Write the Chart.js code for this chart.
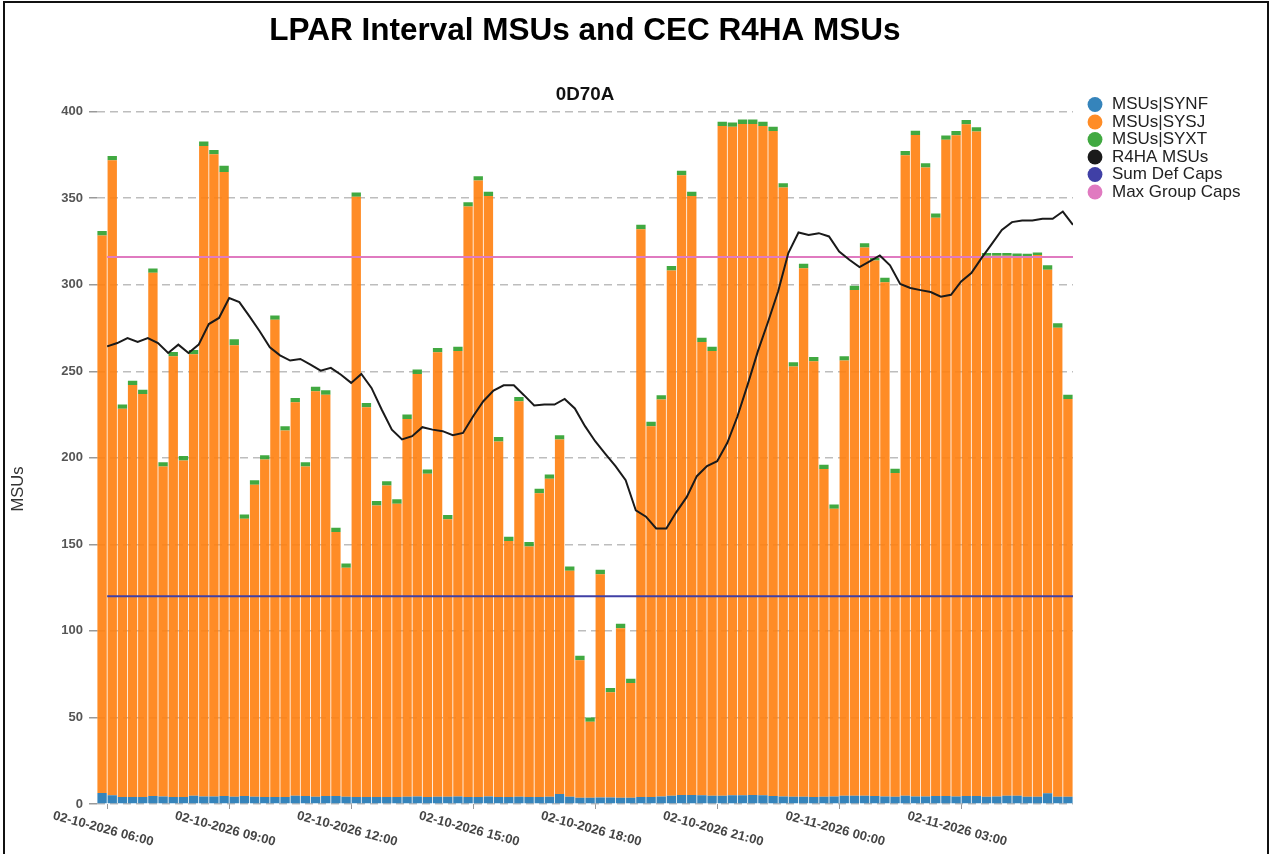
<!DOCTYPE html>
<html>
<head>
<meta charset="utf-8">
<title>LPAR Interval MSUs and CEC R4HA MSUs</title>
<script src="https://cdn.jsdelivr.net/npm/chart.js@4.4.1/dist/chart.umd.min.js"></script>
<style>
    html, body { margin: 0; padding: 0; background: #fff; overflow: hidden; }
    #frame { position: absolute; left: 3px; top: 1px; width: 1262px; height: 900px; border: 2px solid #111; }
    #chart { position: absolute; left: 0; top: 0; }
</style>
</head>
<body>
<div id="frame"></div>
<canvas id="chart" width="1272" height="854"></canvas>
<script>
// ============================================================
// Datos
// ============================================================
const chartTitle    = 'LPAR Interval MSUs and CEC R4HA MSUs';
const chartSubtitle = '0D70A';
const yAxisTitle    = 'MSUs';

const tickLabels = [
    '02-10-2026 06:00', '02-10-2026 09:00', '02-10-2026 12:00', '02-10-2026 15:00',
    '02-10-2026 18:00', '02-10-2026 21:00', '02-11-2026 00:00', '02-11-2026 03:00'
];
const intervalsPerTick = 12; // 12 intervalos de 15 min = 3 horas

const msuSYNF = [
    6.3, 5.0, 4.0, 4.0, 4.0, 4.6, 4.3, 4.0, 4.0, 4.8, 4.4, 4.4, 4.6, 4.2, 4.6, 4.2,
    4.0, 4.0, 4.0, 4.8, 4.6, 4.2, 4.6, 4.6, 4.2, 4.0, 4.0, 4.0, 4.0, 4.0, 4.2, 4.4,
    4.0, 4.2, 4.2, 4.4, 4.0, 4.0, 4.4, 4.0, 4.0, 4.2, 4.0, 4.0, 4.2, 5.8, 4.2, 3.6,
    3.6, 3.8, 3.8, 3.6, 3.6, 4.0, 4.0, 4.4, 4.8, 5.2, 5.2, 5.0, 4.8, 4.8, 5.0, 5.0,
    5.2, 5.0, 4.6, 4.4, 4.2, 4.2, 4.0, 4.2, 4.4, 4.8, 4.8, 4.8, 4.6, 4.4, 4.2, 4.8,
    4.4, 4.4, 4.6, 4.6, 4.4, 4.6, 4.6, 4.2, 4.4, 4.8, 4.8, 4.2, 4.2, 6.2, 4.2, 4.2
];

const msuSYSJ = [
    322.2, 366.9, 224.3, 238.1, 232.9, 302.3, 190.7, 254.7, 194.5, 255.0, 375.8, 371.0,
    360.6, 260.8, 160.2, 180.3, 195.0, 275.8, 211.8, 227.3, 190.4, 234.3, 231.9, 152.5,
    132.3, 346.8, 225.2, 168.5, 180.0, 169.5, 218.3, 244.1, 186.8, 256.8, 160.3, 257.3,
    341.2, 356.2, 346.9, 205.5, 147.9, 228.5, 144.8, 175.6, 183.7, 204.8, 130.5, 79.5,
    43.9, 129.0, 60.7, 98.0, 66.3, 328.1, 214.3, 229.3, 303.5, 358.1, 346.1, 261.9,
    256.9, 386.9, 386.3, 387.9, 387.7, 386.7, 384.2, 351.8, 248.5, 305.4, 251.8, 189.3,
    166.2, 251.4, 292.1, 316.7, 309.4, 297.1, 187.0, 370.0, 382.1, 363.3, 334.1, 379.1,
    381.9, 388.1, 383.9, 312.6, 312.4, 312.0, 311.8, 312.2, 313.0, 302.5, 271.0, 229.8
];

const msuSYXT = [
    2.5, 2.5, 2.5, 2.5, 2.5, 2.5, 2.5, 2.5, 2.5, 2.5, 2.5, 2.5, 3.5, 3.5, 2.5, 2.5,
    2.5, 2.5, 2.5, 2.5, 2.5, 2.5, 2.5, 2.5, 2.5, 2.5, 2.5, 2.5, 2.5, 2.5, 2.5, 2.5,
    2.5, 2.5, 2.5, 2.5, 2.5, 2.5, 2.5, 2.5, 2.5, 2.5, 2.5, 2.5, 2.5, 2.5, 2.5, 2.5,
    2.5, 2.5, 2.5, 2.5, 2.5, 2.5, 2.5, 2.5, 2.5, 2.5, 2.5, 2.5, 2.5, 2.5, 2.5, 2.5,
    2.5, 2.5, 2.5, 2.5, 2.5, 2.5, 2.5, 2.5, 2.5, 2.5, 2.5, 2.5, 2.0, 2.5, 2.5, 2.5,
    2.5, 2.5, 2.5, 2.5, 2.5, 2.5, 2.5, 1.5, 1.5, 1.5, 1.5, 1.5, 1.5, 2.5, 2.5, 2.5
];

const r4haMSU = [
    264.4, 266.3, 269.2, 266.9, 269.2, 266.3, 260.6, 265.4, 260.6, 265.4,
    277.3, 280.8, 292.3, 290.0, 281.7, 273.1, 263.8, 259.2, 256.2, 257.1,
    253.8, 250.4, 252.0, 248.0, 243.3, 248.5, 240.4, 227.9, 216.3, 210.6,
    212.5, 217.7, 216.3, 215.4, 213.1, 214.4, 224.0, 232.7, 238.8, 241.9,
    241.9, 236.2, 230.2, 230.8, 230.8, 234.0, 228.5, 218.3, 209.6, 202.3,
    195.2, 187.1, 169.6, 166.0, 159.2, 159.2, 168.8, 177.3, 189.4, 195.2,
    198.1, 208.7, 224.0, 242.3, 261.5, 278.5, 296.2, 318.3, 330.2, 328.8,
    329.8, 327.9, 319.2, 314.4, 310.2, 313.5, 316.9, 311.2, 300.4, 298.1,
    296.9, 295.8, 293.1, 294.2, 301.9, 306.7, 315.4, 323.5, 331.7, 336.2,
    337.1, 337.1, 338.1, 338.1, 342.3, 334.6
];

const sumDefCaps   = 120;
const maxGroupCaps = 316;

// ============================================================
// Helpers
// ============================================================
const FONT = '"Liberation Sans", Arial, Helvetica, sans-serif';
const nIntervals = msuSYSJ.length;

// barras ocupan el intervalo de 15 min; las líneas marcan el fin del intervalo
const _barPoints  = (vals) => vals.map((v, i) => ({ x: i + 0.5, y: v }));
const _linePoints = (vals) => vals.map((v, i) => ({ x: i + 1, y: v }));
const _capPoints  = (v) => [{ x: 1, y: v }, { x: nIntervals, y: v }];

const _barSet = (label, color, vals) => ({
    label,
    data: _barPoints(vals),
    backgroundColor: color,
    borderWidth: 0,
    stack: 'msu',
    order: 1,
    barPercentage: 0.92,
    categoryPercentage: 1,
    xAxisID: 'x',
    yAxisID: 'y'
});

const _lineSet = (label, color, data, stack) => ({
    type: 'line',
    label,
    data,
    borderColor: color,
    backgroundColor: color,
    borderWidth: 2,
    pointRadius: 0,
    tension: 0,
    stack,
    order: 0,
    xAxisID: 'x',
    yAxisID: 'y'
});

// Textos de ejes que Chart.js no coloca como en la referencia
const axisText = {
    id: 'axisText',
    afterDraw(chart) {
        const { ctx, chartArea, scales } = chart;
        ctx.save();
        ctx.fillStyle = '#444';
        ctx.font = `bold 13px ${FONT}`;
        ctx.textAlign = 'center';
        ctx.textBaseline = 'middle';
        scales.x.ticks.forEach(t => {
            const label = tickLabels[Math.round((t.value - 1) / intervalsPerTick)];
            const px = scales.x.getPixelForValue(t.value);
            ctx.save();
            ctx.translate(px - 4, chartArea.bottom + 25);
            ctx.rotate(15 * Math.PI / 180);
            ctx.fillText(label, 0, 0);
            ctx.restore();
        });

        ctx.translate(18, 489);
        ctx.rotate(-Math.PI / 2);
        ctx.fillStyle = '#333';
        ctx.font = `16.5px ${FONT}`;
        ctx.fillText(yAxisTitle, 0, 0);
        ctx.restore();
    }
};

// ============================================================
// Chart
// ============================================================
Chart.defaults.font.family = FONT;

new Chart(document.getElementById('chart'), {
    type: 'bar',
    data: {
        datasets: [
            _barSet('MSUs|SYNF', 'rgba(31, 119, 180, 0.9)', msuSYNF),
            _barSet('MSUs|SYSJ', 'rgba(255, 127, 14, 0.9)', msuSYSJ),
            _barSet('MSUs|SYXT', 'rgba(44, 160, 44, 0.9)', msuSYXT),
            _lineSet('R4HA MSUs', '#1a1a1a', _linePoints(r4haMSU), 'r4ha'),
            _lineSet('Sum Def Caps', '#4040a6', _capPoints(sumDefCaps), 'defcaps'),
            _lineSet('Max Group Caps', '#e07ac0', _capPoints(maxGroupCaps), 'groupcaps')
        ]
    },
    options: {
        responsive: false,
        devicePixelRatio: 1,
        animation: false,
        layout: { padding: { left: 6, right: 26, top: 4, bottom: 45 } },
        plugins: {
            tooltip: { enabled: false },
            title: {
                display: true,
                text: chartTitle,
                fullSize: false,
                color: '#000',
                font: { size: 31.5, weight: 'bold' },
                padding: { top: 8, bottom: 33.9 }
            },
            subtitle: {
                display: true,
                text: chartSubtitle,
                fullSize: false,
                color: '#111',
                font: { size: 18.8, weight: 'bold' },
                padding: { top: 0, bottom: 5.4 }
            },
            legend: {
                position: 'right',
                align: 'start',
                maxWidth: 160,
                title: { display: true, text: '', font: { size: 10 }, padding: { top: 0, bottom: 79.5 } },
                labels: {
                    usePointStyle: true,
                    pointStyle: 'circle',
                    boxWidth: 17,
                    boxHeight: 10.5,
                    padding: 0.5,
                    color: '#222',
                    font: { size: 17 },
                    sort: (a, b) => a.datasetIndex - b.datasetIndex,
                    generateLabels: (chart) => Chart.defaults.plugins.legend.labels
                        .generateLabels(chart).map(l => ({ ...l, lineWidth: 0 }))
                }
            }
        },
        scales: {
            x: {
                type: 'linear',
                min: 0,
                max: nIntervals,
                offset: false,
                stacked: true,
                afterBuildTicks: (scale) => {
                    scale.ticks = tickLabels.map((_, k) => ({ value: 1 + k * intervalsPerTick }));
                },
                ticks: { display: false },
                grid: { offset: false, drawOnChartArea: false, drawTicks: true, tickLength: 5, color: '#999' },
                border: { display: false }
            },
            y: {
                type: 'linear',
                min: 0,
                max: 400,
                stacked: true,
                afterFit: (scale) => { scale.width = 91; },
                ticks: { stepSize: 50, padding: 6, color: '#555', font: { size: 13, weight: 'bold' } },
                grid: { color: '#bdbdbd', lineWidth: 1.5, tickLength: 8, tickColor: '#999', tickBorderDash: [] },
                border: { display: false, dash: [8, 5] }
            },
            gap: {
                type: 'linear',
                axis: 'y',
                position: 'right',
                afterFit: (scale) => { scale.width = 13; },
                ticks: { display: false },
                grid: { display: false },
                border: { display: false }
            }
        }
    },
    plugins: [axisText]
});
</script>
</body>
</html>
